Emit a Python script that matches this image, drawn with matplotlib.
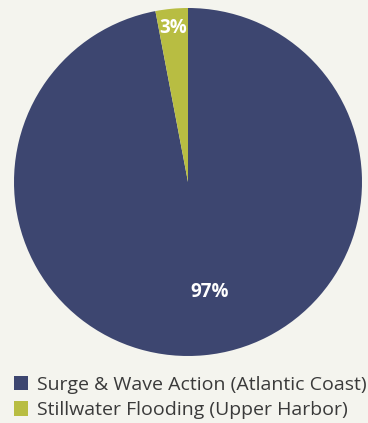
import matplotlib.pyplot as plt
import numpy as np
from matplotlib.patches import Patch

categories = ["Surge & Wave Action (Atlantic Coast)", "Stillwater Flooding (Upper Harbor)"]
shares = [97, 3]
colors = ["#3d4670", "#b8bd42"]

W, H = 368, 423
bg = "#f4f4ee"

fig = plt.figure(figsize=(W / 100, H / 100), dpi=100, facecolor=bg)
# pie axes placed in pixels: centre (188, 182), radius 174
cx, cy, r = 188, 182, 174
ax = fig.add_axes([(cx - r) / W, 1 - (cy + r) / H, 2 * r / W, 2 * r / H])
ax.set_facecolor(bg)

wedges, _ = ax.pie(shares, colors=colors, startangle=90, counterclock=False,
                   radius=1, wedgeprops=dict(linewidth=0))
ax.set_xlim(-1, 1)
ax.set_ylim(-1, 1)
ax.set_aspect("equal")
ax.axis("off")

# percentage labels: big slice label sits a bit right of its mid-angle
label_dist = [0.645, 0.89]
label_turn = [5.5, 0]  # degrees to rotate from wedge middle
for w, v, d, t in zip(wedges, shares, label_dist, label_turn):
    ang = np.deg2rad((w.theta1 + w.theta2) / 2 + t)
    ax.text(d * np.cos(ang), d * np.sin(ang), f"{v}%", color="white",
            fontsize=13.5, fontweight="bold", ha="center", va="center",
            family="Open Sans")

handles = [Patch(facecolor=c, edgecolor="none") for c in colors]
fig.legend(handles, categories, loc="upper left", bbox_to_anchor=(6 / W, 1 - 368 / H),
           frameon=False, handlelength=0.75, handleheight=0.75, handletextpad=0.42,
           labelspacing=0.38, prop=dict(family="Open Sans", size=14),
           labelcolor="#3a3a3a", borderaxespad=0)

fig.savefig("out.png", dpi=100, facecolor=bg)
